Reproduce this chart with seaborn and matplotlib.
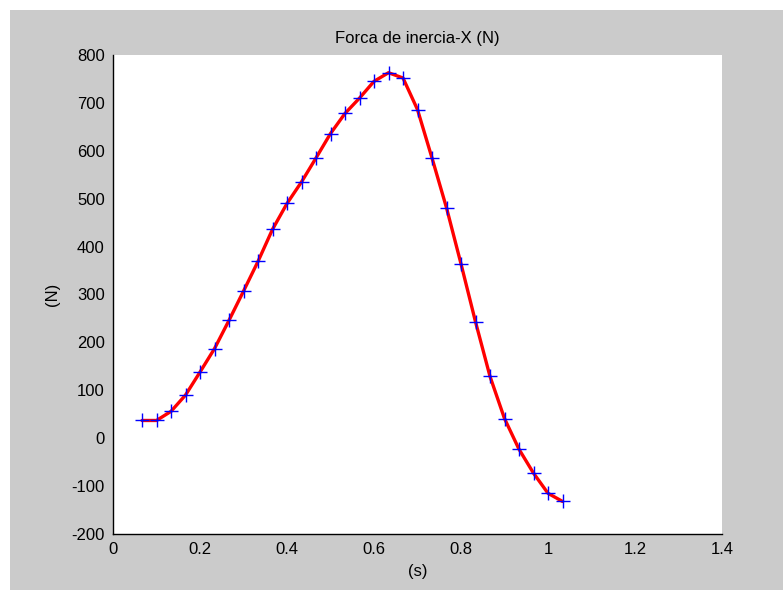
import matplotlib
matplotlib.use("Agg")
import matplotlib.pyplot as plt
from matplotlib.patches import Rectangle
import seaborn as sns
import pandas as pd

# Data (time step 1/30 s)
time_s = [2/30, 3/30, 4/30, 5/30, 6/30, 7/30, 8/30, 9/30, 10/30, 11/30,
          12/30, 13/30, 14/30, 15/30, 16/30, 17/30, 18/30, 19/30, 20/30, 21/30,
          22/30, 23/30, 24/30, 25/30, 26/30, 27/30, 28/30, 29/30, 30/30, 31/30]
force_n = [37, 37, 56, 90, 138, 187, 246, 307, 369, 436,
           490, 535, 585, 636, 678, 710, 745, 763, 752, 686,
           585, 481, 364, 243, 129, 41, -23, -73, -115, -132]
x_ticks = [0, 0.2, 0.4, 0.6, 0.8, 1.0, 1.2, 1.4]
x_tick_labels = ["0", "0.2", "0.4", "0.6", "0.8", "1", "1.2", "1.4"]
y_ticks = [-200, -100, 0, 100, 200, 300, 400, 500, 600, 700, 800]
y_tick_labels = ["-200", "-100", "0", "100", "200", "300", "400", "500", "600", "700", "800"]
title = "Forca de inercia-X (N)"
x_label = "(s)"
y_label = "(N)"

df = pd.DataFrame({"t": time_s, "f": force_n})

sns.set_style("white")
plt.rcParams["font.family"] = ["Liberation Sans", "DejaVu Sans"]
plt.rcParams["text.color"] = "black"
plt.rcParams["axes.labelcolor"] = "black"

W, H = 783, 590
fig = plt.figure(figsize=(W / 100, H / 100), dpi=100, facecolor="white")
fig.patches.append(Rectangle((10 / W, 0), 1 - 10 / W, (H - 10) / H,
                             transform=fig.transFigure, facecolor="#cbcbcb",
                             edgecolor="none", zorder=-10))
ax = fig.add_axes([113 / W, (H - 534) / H, (722 - 113) / W, (534 - 55) / H])
ax.set_facecolor("white")

sns.lineplot(data=df, x="t", y="f", ax=ax, color="red", linewidth=2.4,
             sort=False, estimator=None, zorder=2)
sns.scatterplot(data=df, x="t", y="f", ax=ax, marker="+", color="blue",
                s=110, linewidth=1.0, zorder=3)

ax.set_xlim(0, 1.4)
ax.set_ylim(-200, 800)
ax.set_xticks(x_ticks)
ax.set_xticklabels(x_tick_labels)
ax.set_yticks(y_ticks)
ax.set_yticklabels(y_tick_labels)
ax.tick_params(direction="in", length=5, width=1, colors="black",
               labelsize=12, pad=6)
for side in ["top", "right"]:
    ax.spines[side].set_visible(False)
for side in ["left", "bottom"]:
    ax.spines[side].set_color("black")
    ax.spines[side].set_linewidth(1)

ax.set_title(title, fontsize=12, pad=9, color="black")
ax.set_xlabel(x_label, fontsize=12, labelpad=5, color="black")
ax.set_ylabel(y_label, fontsize=12, labelpad=8, color="black")

fig.savefig("out.png", dpi=100, facecolor=fig.get_facecolor())
